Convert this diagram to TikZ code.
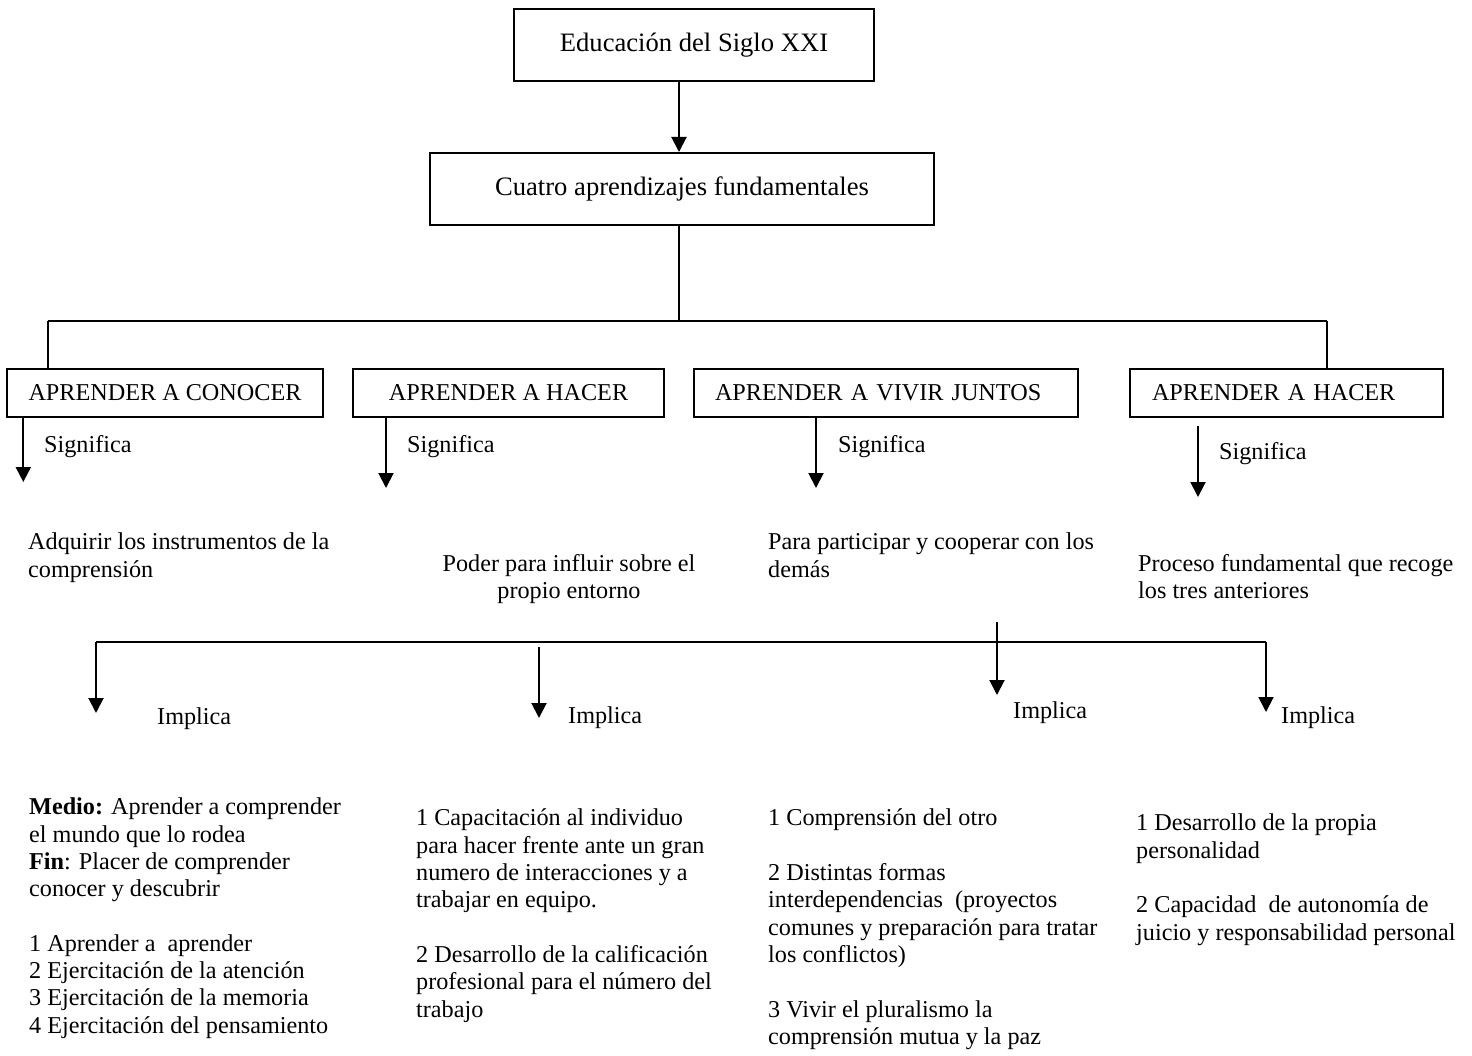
\documentclass[tikz,border=0pt]{standalone}
\usepackage{fontspec}
\setmainfont{Liberation Serif}
\usetikzlibrary{arrows.meta}
\begin{document}
\begin{tikzpicture}[x=1pt,y=-1pt,
  every node/.style={font=\fontsize{24.2}{27.3}\selectfont},
  box/.style={draw,line width=1.7pt,inner sep=0pt,align=center},
  bigbox/.style={box,font=\fontsize{26.6}{30}\selectfont},
  txt/.style={inner sep=0pt,anchor=north west,align=left,yshift=19.11pt,execute at begin node=\strut},
  arr/.style={line width=2pt,-{Triangle[width=15pt,length=15pt]}},
  ln/.style={line width=1.7pt}]
\useasboundingbox (0,0) rectangle (1472,1056);
% top boxes
\node[bigbox,minimum width=360pt,minimum height=72pt] (edu) at (694,45) {Educación del Siglo XXI};
\node[bigbox,minimum width=504pt,minimum height=72pt] (cuatro) at (682,189) {Cuatro aprendizajes fundamentales};
\coordinate (edutip) at (679,152);
\draw[arr] (edu.south -| edutip) -- (edutip);
% row boxes
\node[box,minimum width=316pt,minimum height=48pt] (conocer) at (165,393) {APRENDER A CONOCER};
\node[box,minimum width=311pt,minimum height=48pt] (hacer) at (508.5,393) {APRENDER A HACER};
\node[box,text width=342pt,inner xsep=21pt,minimum height=48pt,align=left] (vivir) at (886,393) {APRENDER A VIVIR JUNTOS};
\node[box,text width=269pt,inner xsep=22pt,minimum height=48pt,align=left] (ser) at (1286.5,393) {APRENDER A HACER};
% branching
\coordinate (hub) at (679,321);
\coordinate (hl) at (47.7,321);
\coordinate (hr) at (1327,321);
\draw[ln] (cuatro.south -| hub) -- (hub);
\draw[ln] (hl) -- (hr);
\draw[ln] (hl) -- (hl |- conocer.north);
\draw[ln] (hr) -- (hr |- ser.north);
% significa arrows
\coordinate (sa) at (23.3,482);
\coordinate (sb) at (386,488);
\coordinate (sc) at (816,488);
\coordinate (sd0) at (1198,426);
\coordinate (sd) at (1198,497);
\draw[arr] (conocer.south -| sa) -- (sa);
\draw[arr] (hacer.south -| sb) -- (sb);
\draw[arr] (vivir.south -| sc) -- (sc);
\draw[arr] (sd0) -- (sd);
\node[txt] (siga) at (44,452) {Significa};
\node[txt] (sigb) at (407,452) {Significa};
\node[txt] (sigc) at (838,452) {Significa};
\node[txt] (sigd) at (1219,459) {Significa};
% meanings
\node[txt] (ma) at (28,552) {Adquirir los instrumentos de la\\comprensión};
\node[txt,anchor=north,align=center] (mb) at (569,573) {Poder para influir sobre el\\propio entorno};
\node[txt] (mc) at (768,552) {Para participar y cooperar con los\\demás};
\node[txt] (md) at (1138,573) {Proceso fundamental que recoge\\los tres anteriores};
% implica
\coordinate (il) at (96,642);
\coordinate (ir) at (1266,642);
\coordinate (ia) at (96,713);
\coordinate (ib0) at (539,647);
\coordinate (ib) at (539,718);
\coordinate (ic0) at (997,622);
\coordinate (ic) at (997,695);
\coordinate (id) at (1266,712);
\draw[ln] (il) -- (ir);
\draw[arr] (il) -- (ia);
\draw[arr] (ib0) -- (ib);
\draw[arr] (ic0) -- (ic);
\draw[arr] (ir) -- (id);
\node[txt] (impa) at (157,724) {Implica};
\node[txt] (impb) at (568,723) {Implica};
\node[txt] (impc) at (1013,718) {Implica};
\node[txt] (impd) at (1281,723) {Implica};
% details
\node[txt] (da) at (29,817) {\textbf{Medio:} Aprender a comprender\\el mundo que lo rodea\\\textbf{Fin}: Placer de comprender\\conocer y descubrir\\[27.3pt]1 Aprender a\ \ aprender\\2 Ejercitación de la atención\\3 Ejercitación de la memoria\\4 Ejercitación del pensamiento};
\node[txt] (db) at (416,828) {1 Capacitación al individuo\\para hacer frente ante un gran\\numero de interacciones y a\\trabajar en equipo.\\[27.3pt]2 Desarrollo de la calificación\\profesional para el número del\\trabajo};
\node[txt] (dc) at (768,828) {1 Comprensión del otro\\[27.3pt]2 Distintas formas\\interdependencias\ \ (proyectos\\comunes y preparación para tratar\\los conflictos)\\[27.3pt]3 Vivir el pluralismo la\\comprensión mutua y la paz};
\node[txt] (dd) at (1136,833) {1 Desarrollo de la propia\\personalidad\\[27.3pt]2 Capacidad\ \ de autonomía de\\juicio y responsabilidad personal};
\end{tikzpicture}
\end{document}
